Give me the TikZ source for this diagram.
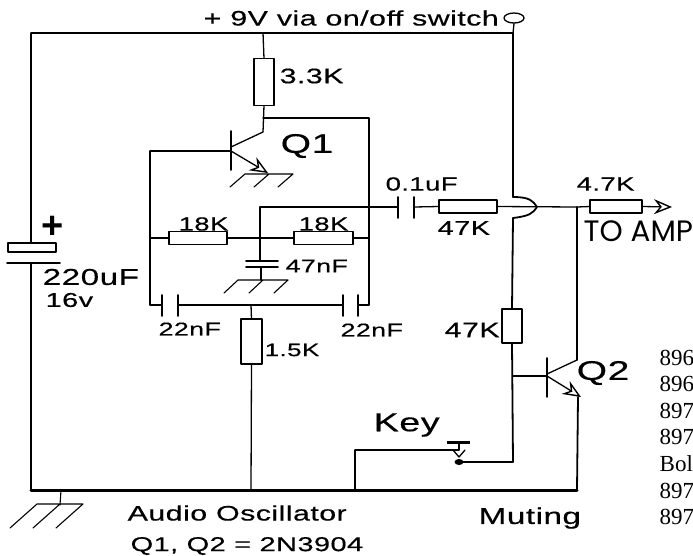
\documentclass[tikz,border=0pt]{standalone}
\usepackage{fontspec}
\setmainfont{Liberation Sans}
\newfontfamily\wide[FakeStretch=1.45,LetterSpace=2,FakeBold=0.4]{Liberation Sans}
\newfontfamily\geo{Poppins}
\newfontfamily\tms{Liberation Serif}
\usetikzlibrary{arrows.meta,shapes.geometric}
\newcommand{\sz}[1]{\wide\fontsize{#1}{#1}\selectfont}
\begin{document}
\begin{tikzpicture}[x=1pt, y=-1pt, line width=1.3pt, line join=round, line cap=round,
  res/.style={draw, fill=white, inner sep=0pt, outer sep=0pt, minimum width=#1},
  resh/.style={res=58pt, minimum height=13pt},
  resv/.style={res=20pt, minimum height=47pt},
  lab/.style={anchor=west, inner sep=0pt, font=\sz{#1}},
  plate/.style={line width=1.8pt},
  tip/.style={-{Stealth[open, length=18pt, width=15pt, inset=6pt, line width=1.4pt]}}]
  \useasboundingbox (0,0) rectangle (693,555);
  \path
  (31,33) coordinate (TL)
  (263,33) coordinate (TM)
  (513,33) coordinate (TR)
  (263,118) coordinate (CA)
  (369,118) coordinate (CB)
  (263,132) coordinate (CQ)
  (150,151) coordinate (BL)
  (231,151) coordinate (BQ)
  (150,238) coordinate (ML)
  (369,238) coordinate (MR)
  (260,238) coordinate (MM)
  (260,207) coordinate (MT)
  (150,305) coordinate (LL)
  (369,305) coordinate (LR)
  (251,305) coordinate (LM)
  (31,490) coordinate (BA)
  (251,490) coordinate (BB)
  (355,490) coordinate (BC)
  (577,490) coordinate (BD)
  (513,197) coordinate (JA)
  (513,218) coordinate (JB)
  (577,207) coordinate (OA)
  (513,376) coordinate (BZ)
  (547,376) coordinate (BP)
  (577,360) coordinate (CP)
  (513,462) coordinate (KA)
  (459,462) coordinate (KB)
  (355,450) coordinate (KC)
  (459,450) coordinate (KD)
  (245,174) coordinate (GQ)
  (238,280) coordinate (GC)
  (37,504) coordinate (GM)
  ;
  %\draw[gray!50] (0,0) grid (693,555);
  % supply and ground rails
  \draw (TL)--(TR);
  \draw[line width=1.8pt] (TR)--(JA);
  \draw (TL)--(31,243);
  \draw (31,263)--(BA);
  \draw[line width=3pt] (BA)--(BD);
  \node[draw, fill=white, minimum width=48pt, minimum height=9pt, inner sep=0pt] (Cbig) at (32,247.5) {};
  \draw[plate] (7,263)--(60,263);
  \node[ellipse, draw, minimum width=20pt, minimum height=10pt, inner sep=0pt] (SW) at (514,18) {};
  \draw (SW.south)--(TR);
  % Q1
  \node[resv] (R33) at (264,82) {};
  \draw (TM)--(R33.north);
  \draw (R33.south)--(CQ);
  \draw (CA)--(CB)--(MR);
  \draw (MR)--(LR);
  \draw[plate] (231,131)--(231,170);
  \draw (BL)--(BQ);
  \draw (CQ)--(231,147);
  \draw[tip] (BQ)--(268,173);
  \draw (BL)--(ML)--(LL);
  % twin T
  \node[resh] (RA) at (198,238) {};
  \node[resh, minimum width=59pt] (RB) at (323.5,238) {};
  \draw (ML)--(RA.west);
  \draw (RA.east)--(RB.west);
  \draw (RB.east)--(MR);
  \draw (MM)--(MT)--(398,207);
  \draw (MM)--(260,261);
  \draw[plate] (246,261)--(278,261);
  \draw[plate] (246,267)--(278,267);
  \draw (261,267)--(261,280);
  \draw (LL)--(162,305);
  \draw[plate] (162,295)--(162,316);
  \draw[plate] (178,295)--(178,316);
  \draw (178,305)--(343,305);
  \draw[plate] (343,295)--(343,316);
  \draw[plate] (358,295)--(358,316);
  \draw (358,305)--(LR);
  \node[resv, minimum width=21pt, minimum height=45pt] (R15) at (251.5,341.5) {};
  \draw (LM)--(R15.north);
  \draw (R15.south)--(BB);
  % output
  \draw[plate] (398,197)--(398,218);
  \draw[plate] (414,197)--(414,218);
  \node[resh] (R47) at (468,206.5) {};
  \node[resh, minimum width=52pt] (R47b) at (616,206.5) {};
  \draw (414,207)--(R47.west);
  \draw (R47.east)--(OA);
  \draw (OA)--(R47b.west);
  \draw[tip] (R47b.east)--(672,207);
  \draw[line width=1.8pt] (JA)..controls (530,197) and (533,201)..(537,207)
  ..controls (533,213) and (530,216)..(JB);
  \draw[line width=1.8pt] (OA)--(CP);
  % Q2
  \node[resv, minimum width=20pt, minimum height=34pt] (R47c) at (512,326) {};
  \draw[line width=1.8pt] (JB)--(R47c.north);
  \draw[line width=1.8pt] (R47c.south)--(KA);
  \draw (BZ)--(BP);
  \draw[plate] (547,358)--(547,397);
  \draw (CP)--(547,374);
  \draw[tip] (BP)--(581,397);
  \draw[line width=1.8pt] (578,397)--(BD);
  % key
  \draw (KA)--(KB);
  \draw[line width=3pt, line cap=butt] (447,442)--(470,442);
  \draw (459,442)--(KD);
  \draw (KC)--(KD);
  \draw (BC)--(KC);
  \draw (453,450)--(459,457)--(465,450);
  \fill (KB) ellipse (4.5pt and 3pt);
  % grounds
  \foreach \p/\w/\h/\s in {GQ/48/13/15, GC/50/13/14, GM/46/24/27}
  \draw[line width=1.1pt] (\p)--+(\w,0) (\p)--+(-\s,\h) (\p)++({\w/2},0)--+(-\s,\h) (\p)++(\w,0)--+(-\s,\h);
  \draw[line width=1.1pt] (61,490)--(60,505);
  % labels
  \node[lab=21] (sup) at (203,18) {+ 9V via on/off switch};
  \node[lab=21] (l33) at (279,76) {3.3K};
  \node[lab=27] (q1) at (280,146) {Q1};
  \node[lab=27] (q2) at (576,373) {Q2};
  \node[lab=19] (l01) at (385,184) {0.1uF};
  \node[lab=20] (l47) at (437,228) {47K};
  \node[lab=19] (l4k) at (576,184) {4.7K};
  \node[anchor=west, inner sep=0pt, font=\geo\fontsize{29.5}{29.5}\selectfont] (amp) at (583,231) {TO AMP};
  \node[lab=19] (la) at (178,224) {18K};
  \node[lab=19] (lb) at (298,224) {18K};
  \node[lab=18.5] (ln) at (285,266) {47nF};
  \node[lab=18.5] (lc) at (158,329) {22nF};
  \node[lab=18.5] (ld) at (340,330) {22nF};
  \node[lab=18] (l15) at (264,350) {1.5K};
  \node[lab=21] (l47c) at (444,330) {47K};
  \node[lab=26] (key) at (373,425) {Key};
  \node[lab=23] (c1) at (42,277) {220uF};
  \node[lab=20] (c2) at (45,300) {16v};
  \node[anchor=west, inner sep=0pt, font=\fontsize{38}{38}\selectfont\bfseries] (cp) at (41,227) {+};
  \node[lab=21] (osc) at (127,513) {Audio Oscillator};
  \node[lab=23] (mut) at (478,518) {Muting};
  \node[lab=20] (typ) at (130,546) {Q1, Q2 = 2N3904};
  % cut off notes on the right
  \foreach \t [count=\i] in {896,896,897,897,Bol,897,897}
  \node[anchor=west, inner sep=0pt, font=\tms\fontsize{23}{23}\selectfont] (n\i) at (659,{331+\i*26.6}) {\t};
\end{tikzpicture}
\end{document}
